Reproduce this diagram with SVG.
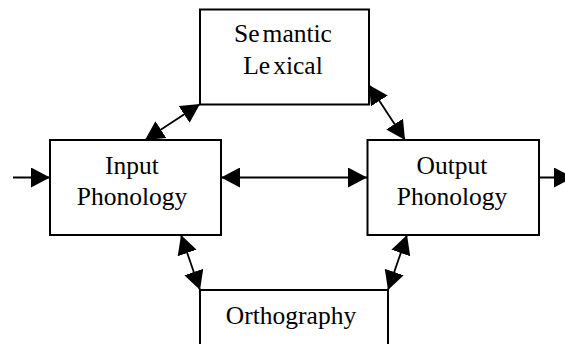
<svg xmlns="http://www.w3.org/2000/svg" width="565" height="344" viewBox="0 0 565 344">
<style>
.box{fill:#fff;stroke:#000;stroke-width:2}
.lbl{font-family:"Liberation Serif","Times New Roman",serif;font-size:25.5px;fill:#000;text-anchor:middle}
.conn{stroke:#000;stroke-width:1.8;fill:none}
</style>
<defs>
<marker id="ah" markerUnits="userSpaceOnUse" viewBox="0 0 19 20" refX="19" refY="10" markerWidth="19" markerHeight="20" orient="auto-start-reverse">
<path d="M0,0 L19,10 L0,20 Z" fill="#000"/>
</marker>
</defs>
<g id="connectors">
<line class="conn" x1="13" y1="177.5" x2="50" y2="177.5" marker-end="url(#ah)"/>
<line class="conn" x1="539" y1="177.5" x2="573" y2="177.5" marker-end="url(#ah)"/>
<line class="conn" x1="221" y1="177.5" x2="367" y2="177.5" marker-start="url(#ah)" marker-end="url(#ah)"/>
<line class="conn" x1="145" y1="140" x2="200" y2="104" marker-start="url(#ah)" marker-end="url(#ah)"/>
<line class="conn" x1="369" y1="85" x2="405" y2="140" marker-start="url(#ah)" marker-end="url(#ah)"/>
<line class="conn" x1="181" y1="235" x2="200" y2="290" marker-start="url(#ah)" marker-end="url(#ah)"/>
<line class="conn" x1="407" y1="235" x2="388" y2="290" marker-start="url(#ah)" marker-end="url(#ah)"/>
</g>
<g id="semantic">
<rect class="box" x="200" y="9.5" width="169" height="95"/>
<text class="lbl" x="283" y="42">Se<tspan dx="3">mantic</tspan></text>
<text class="lbl" x="283" y="74">Le<tspan dx="3">xical</tspan></text>
</g>
<g id="input">
<rect class="box" x="50" y="140" width="171" height="95"/>
<text class="lbl" x="132" y="174">Input</text>
<text class="lbl" x="132" y="205">Phonology</text>
</g>
<g id="output">
<rect class="box" x="367.5" y="140" width="171.5" height="95"/>
<text class="lbl" x="452" y="174">Output</text>
<text class="lbl" x="452" y="205">Phonology</text>
</g>
<g id="orthography">
<rect class="box" x="200" y="290" width="188" height="70"/>
<text class="lbl" x="291" y="323.5">Orthography</text>
</g>
</svg>
